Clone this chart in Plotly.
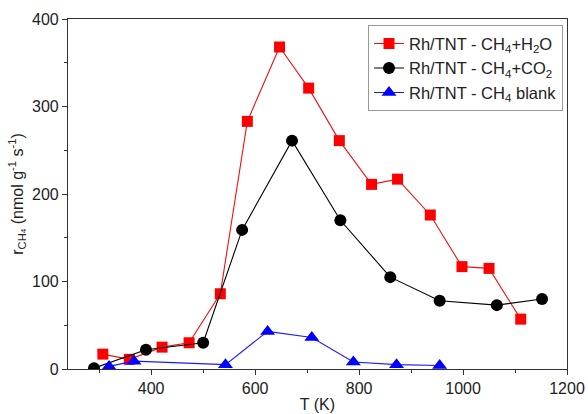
import plotly.graph_objects as go

# Data
h2o_T = [307, 358, 421, 473, 533, 585, 647, 703, 762, 824, 874, 937, 998, 1050, 1111]
h2o_r = [17, 11, 25, 30, 86, 283, 368, 321, 261, 211, 217, 176, 117, 115, 57]

co2_T = [290, 390, 500, 575, 671, 764, 860, 955, 1065, 1152]
co2_r = [1, 22, 30, 159, 261, 170, 105, 78, 73, 80]

blank_T = [319, 367, 543, 624, 709, 789, 872, 955]
blank_r = [3, 9, 5, 43, 36, 8, 5, 4]

x_ticks = [400, 600, 800, 1000, 1200]
y_ticks = [0, 100, 200, 300, 400]

fig = go.Figure()
fig.add_trace(go.Scatter(
    x=h2o_T, y=h2o_r, mode="lines+markers",
    name="Rh/TNT - CH<sub>4</sub>+H<sub>2</sub>O",
    line=dict(color="#f01010", width=1.1),
    marker=dict(symbol="square", size=11, color="#ff0000")))
fig.add_trace(go.Scatter(
    x=co2_T, y=co2_r, mode="lines+markers",
    name="Rh/TNT - CH<sub>4</sub>+CO<sub>2</sub>",
    line=dict(color="#000000", width=1.1),
    marker=dict(symbol="circle", size=12, color="#000000")))
fig.add_trace(go.Scatter(
    x=blank_T, y=blank_r, mode="lines+markers",
    name="Rh/TNT - CH<sub>4</sub> blank",
    line=dict(color="#1a1aff", width=1.1),
    marker=dict(symbol="triangle-up", size=13, color="#0000ff")))

axis_common = dict(
    showline=True, linecolor="#333333", linewidth=1.2, mirror=True,
    ticks="outside", ticklen=5, tickcolor="#333333", showgrid=False, zeroline=False,
    tickfont=dict(size=16, color="#222222"), automargin=False,
)

fig.update_xaxes(
    range=[240, 1200], tickvals=x_ticks,
    minor=dict(ticks="outside", ticklen=3, dtick=100, tick0=0, tickcolor="#333333"),
    title=dict(text="T (K)", font=dict(size=16, color="#222222"), standoff=2),
    **axis_common)
fig.update_yaxes(
    range=[0, 400], tickvals=y_ticks,
    minor=dict(ticks="outside", ticklen=3, dtick=50, tick0=0, tickcolor="#333333"),
    title=dict(text="r<sub>CH<span style='font-size:8px'>4</span></sub> (nmol g<sup>-1</sup> s<sup>-1</sup>)",
               font=dict(size=16, color="#222222"), standoff=4),
    **axis_common)

fig.update_layout(
    width=588, height=414,
    margin=dict(l=68, r=21, t=19, b=45),
    paper_bgcolor="white", plot_bgcolor="white",
    font=dict(family="Liberation Sans, Arial, sans-serif", color="#222222"),
    legend=dict(x=0.992, y=0.982, xanchor="right", yanchor="top",
                bordercolor="#999999", borderwidth=1, bgcolor="white",
                font=dict(size=16.5), tracegroupgap=0, itemwidth=30),
    showlegend=True,
)

fig.write_html("out.html")
